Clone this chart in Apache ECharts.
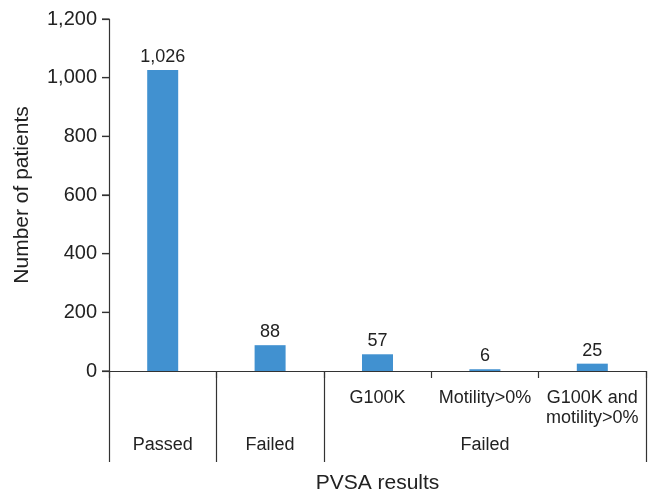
<!DOCTYPE html>
<html>
<head>
<meta charset="utf-8">
<script src="https://cdn.jsdelivr.net/npm/echarts@6/dist/echarts.min.js"></script>
<style>
    html, body { margin: 0; padding: 0; background: #fff; }
    #main { width: 651px; height: 495px; }
</style>
</head>
<body>
<div id="main"></div>
<script>
    // 数据
    var subLabels = ['', '', 'G100K', 'Motility>0%', 'G100K and\nmotility>0%'];
    var groupLabels = ['Passed', 'Failed', '', 'Failed', ''];
    var patients = [1026, 88, 57, 6, 25];
    var yTicks = [0, 200, 400, 600, 800, 1000, 1200];

    var textColor = '#222';
    var lineColor = '#333';

    function fmt(v) {
        return String(v).replace(/\B(?=(\d{3})+(?!\d))/g, ',');
    }

    var yMin = yTicks[0],
        yMax = yTicks[yTicks.length - 1],
        yStep = yTicks[1] - yTicks[0];

    var myChart = echarts.init(document.getElementById('main'));
    myChart.setOption({
        animation: false,
        textStyle: { fontFamily: 'Liberation Sans, Arial, sans-serif' },
        grid: { left: 109, right: 5, top: 19, bottom: 124, outerBoundsMode: 'none' },
        xAxis: [
            {
                type: 'category',
                data: subLabels,
                axisLine: { show: true, lineStyle: { color: lineColor, width: 1.2 } },
                axisTick: { show: true, length: 7, lineStyle: { color: lineColor, width: 1.2 } },
                axisLabel: {
                    show: true,
                    interval: 0,
                    margin: 17,
                    color: textColor,
                    fontSize: 18,
                    lineHeight: 20
                }
            },
            {
                type: 'category',
                data: groupLabels,
                position: 'bottom',
                offset: 0,
                axisLine: { show: false },
                axisTick: {
                    show: true,
                    length: 91,
                    // 分组边界: 0,1,2 与末端
                    interval: function (index) { return index <= 2; },
                    lineStyle: { color: lineColor, width: 1.2 }
                },
                axisLabel: {
                    show: true,
                    interval: 0,
                    margin: 65,
                    color: textColor,
                    fontSize: 18
                },
                name: 'PVSA results',
                nameLocation: 'middle',
                nameGap: 102,
                nameTextStyle: { color: textColor, fontSize: 21 }
            }
        ],
        yAxis: {
            type: 'value',
            min: yMin,
            max: yMax,
            interval: yStep,
            name: 'Number of patients',
            nameLocation: 'middle',
            nameGap: 76,
            nameTextStyle: { color: textColor, fontSize: 21 },
            axisLine: { show: true, lineStyle: { color: lineColor, width: 1.2 } },
            axisTick: { show: true, length: 7, lineStyle: { color: lineColor, width: 1.2 } },
            axisLabel: {
                margin: 12,
                color: textColor,
                fontSize: 20,
                formatter: function (val) { return fmt(val); }
            },
            splitLine: { show: false }
        },
        series: [
            {
                type: 'bar',
                data: patients,
                barWidth: 31,
                itemStyle: { color: '#4191d0' },
                label: {
                    show: true,
                    position: 'top',
                    distance: 4,
                    color: textColor,
                    fontSize: 18,
                    formatter: function (p) { return fmt(p.value); }
                }
            },
            {
                // y轴刻度线
                type: 'custom',
                silent: true,
                clip: false,
                z: 5,
                encode: { x: 0, y: 1 },
                data: yTicks.map(function (v) { return [0, v]; }),
                renderItem: function (params, api) {
                    var p = api.coord([api.value(0), api.value(1)]);
                    var band = api.size([1, 0])[0];
                    var x0 = p[0] - band / 2;
                    return {
                        type: 'line',
                        shape: { x1: x0 - 7, y1: p[1], x2: x0, y2: p[1] },
                        style: { stroke: lineColor, lineWidth: 1.2 }
                    };
                }
            }
        ]
    });
</script>
</body>
</html>
